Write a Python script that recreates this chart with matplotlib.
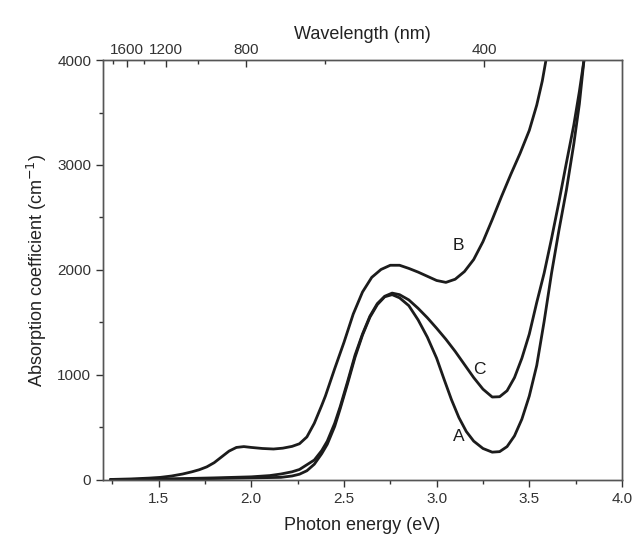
"""Absorption spectra A, B, C vs photon energy, with a wavelength axis on top."""
import matplotlib
matplotlib.use("Agg")
import matplotlib.pyplot as plt          # noqa: E402

plt.rcParams["font.family"] = ["Liberation Sans", "DejaVu Sans"]

# ---- data (eV, cm^-1) ----
e_b = [1.24, 1.35, 1.45, 1.51, 1.57, 1.63, 1.68, 1.72, 1.76, 1.80, 1.84, 1.88,
       1.92, 1.96, 2.00, 2.06, 2.12, 2.17, 2.22, 2.26, 2.30, 2.34, 2.38, 2.40,
       2.45, 2.50, 2.55, 2.60, 2.65, 2.70, 2.75, 2.80, 2.85, 2.90, 2.95, 3.00,
       3.05, 3.10, 3.15, 3.20, 3.25, 3.30, 3.35, 3.40, 3.45, 3.50, 3.54, 3.57,
       3.59]
a_b = [5, 10, 18, 25, 38, 57, 78, 98, 125, 165, 220, 275,
       310, 318, 310, 300, 295, 303, 320, 345, 410, 540, 710, 800,
       1060, 1310, 1580, 1790, 1930, 2005, 2045, 2045, 2015, 1980, 1940, 1900,
       1882, 1912, 1985, 2100, 2270, 2480, 2700, 2910, 3110, 3330, 3570, 3800,
       4000]

e_c = [1.24, 1.40, 1.60, 1.80, 2.00, 2.10, 2.16, 2.22, 2.26, 2.30, 2.34, 2.38,
       2.41, 2.45, 2.48, 2.52, 2.56, 2.60, 2.64, 2.68, 2.72, 2.76, 2.80, 2.85,
       2.90, 2.95, 3.00, 3.05, 3.10, 3.15, 3.20, 3.25, 3.30, 3.34, 3.38, 3.42,
       3.46, 3.50, 3.54, 3.58, 3.62, 3.66, 3.70, 3.74, 3.77, 3.795]
a_c = [3, 6, 12, 20, 30, 42, 57, 78, 100, 145, 190, 280,
       370, 540, 700, 940, 1190, 1390, 1560, 1680, 1750, 1780, 1765, 1715,
       1635, 1545, 1445, 1340, 1225, 1100, 975, 865, 790, 793, 850, 975,
       1160, 1390, 1690, 1970, 2300, 2650, 3020, 3380, 3700, 4000]

e_a = [1.24, 1.40, 1.60, 1.80, 2.00, 2.10, 2.16, 2.22, 2.26, 2.30, 2.34, 2.38,
       2.41, 2.45, 2.48, 2.52, 2.56, 2.60, 2.64, 2.68, 2.72, 2.76, 2.80, 2.85,
       2.90, 2.95, 3.00, 3.04, 3.08, 3.12, 3.16, 3.20, 3.25, 3.30, 3.34, 3.38,
       3.42, 3.46, 3.50, 3.54, 3.58, 3.62, 3.66, 3.70, 3.74, 3.77, 3.795]
a_a = [2, 4, 8, 14, 20, 23, 25, 38, 55, 88, 150, 250,
       340, 510, 680, 920, 1170, 1380, 1550, 1670, 1745, 1765, 1735, 1660,
       1525, 1360, 1160, 960, 765, 595, 462, 370, 300, 265, 270, 318,
       420, 580, 800, 1090, 1510, 1970, 2380, 2760, 3200, 3580, 4000]

labels = ["A", "B", "C"]
label_pos = [(3.118, 413), (3.118, 2238), (3.232, 1048)]

# top axis (as printed in the source figure: not exactly 1240/lambda)
wl_major = [1600, 1200, 800, 400]
wl_minor = [2000, 1800, 1400, 1000, 600]
WL_K, WL_OFF = 1028.0, 0.685


def wl_to_e(lam):
    return WL_OFF + WL_K / lam


ink = "#1c1c1c"
fig = plt.figure(figsize=(6.33, 5.45), dpi=100)
ax = fig.add_axes([0.1627, 0.1193, 0.8199, 0.7706])

for e, a in ((e_a, a_a), (e_b, a_b), (e_c, a_c)):
    ax.plot(e, a, color=ink, lw=2.0, solid_capstyle="round",
            solid_joinstyle="round")

for lab, (x, y) in zip(labels, label_pos):
    ax.text(x, y, lab, fontsize=12.5, color=ink, ha="center", va="center")

ax.set_xlim(1.2, 4.0)
ax.set_ylim(0, 4000)
ax.set_xticks([1.5, 2.0, 2.5, 3.0, 3.5, 4.0])
ax.set_xticks([1.25, 1.75, 2.25, 2.75, 3.25, 3.75], minor=True)
ax.set_yticks([0, 1000, 2000, 3000, 4000])
ax.set_yticks([500, 1500, 2500, 3500], minor=True)
ax.tick_params(which="both", direction="out", labelsize=11, colors="#333333",
               top=False, right=False)
ax.tick_params(which="major", length=5, width=1.0)
ax.tick_params(which="minor", length=3, width=1.0)
ax.set_xlabel("Photon energy (eV)", fontsize=13, color="#222222", labelpad=8)
ax.set_ylabel("Absorption coefficient (cm$^{-1}$)", fontsize=13,
              color="#222222", labelpad=6)
for sp in ax.spines.values():
    sp.set_color("#555555")
    sp.set_linewidth(1.0)

axt = ax.twiny()
axt.set_xlim(ax.get_xlim())
axt.set_xticks([wl_to_e(w) for w in wl_major])
axt.set_xticklabels([str(w) for w in wl_major])
axt.set_xticks([wl_to_e(w) for w in wl_minor if wl_to_e(w) > 1.2], minor=True)
axt.tick_params(which="both", direction="in", labelsize=11, colors="#333333",
                pad=2)
axt.tick_params(which="major", length=5, width=1.0)
axt.tick_params(which="minor", length=3, width=1.0)
axt.set_xlabel("Wavelength (nm)", fontsize=13, color="#222222", labelpad=3)
for sp in axt.spines.values():
    sp.set_color("#555555")
    sp.set_linewidth(1.0)

fig.savefig("out.png", dpi=100)
